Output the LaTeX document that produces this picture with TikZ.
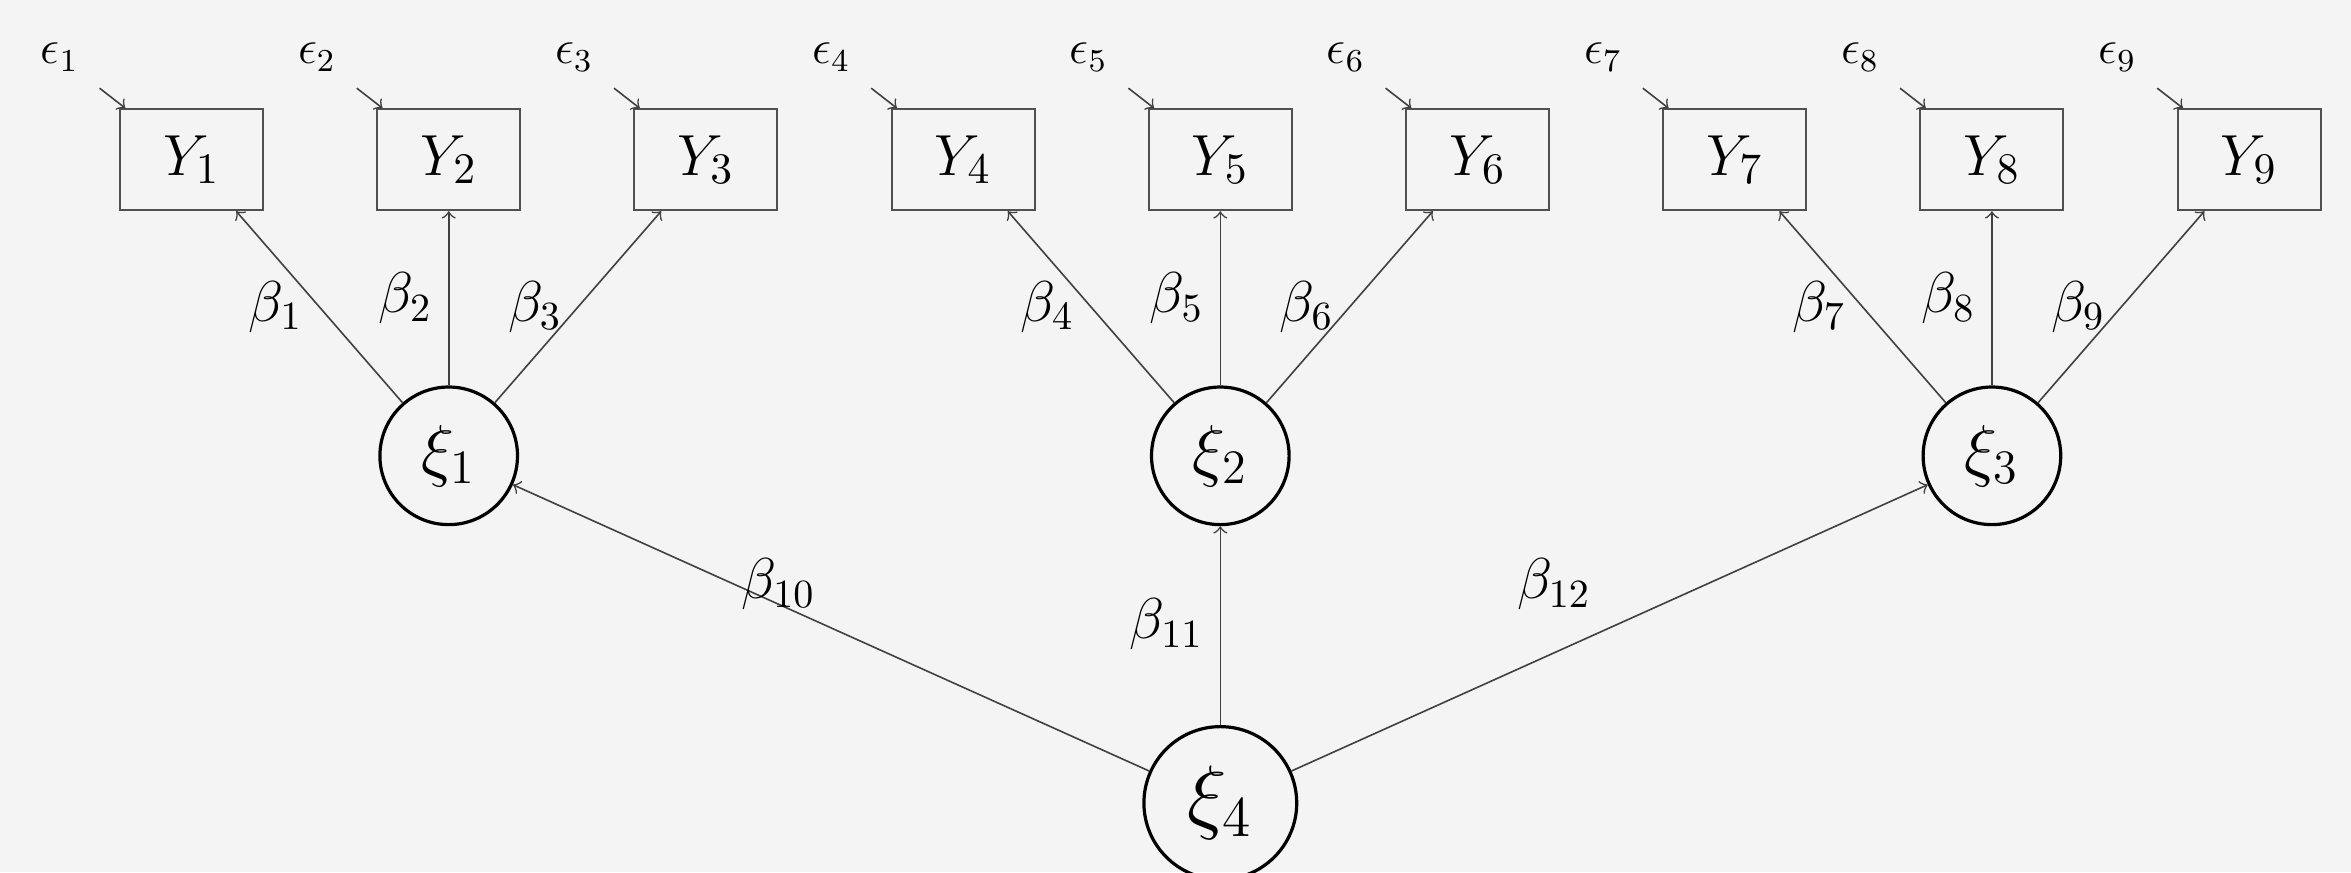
\RequirePackage{fix-cm}
\documentclass[tikz,border=0pt]{standalone}
\usetikzlibrary{calc}
\DeclareMathSizes{14.5}{14.5}{10.9}{8}
\definecolor{bg}{HTML}{F4F4F4}
\definecolor{ln}{HTML}{404040}
\definecolor{boxc}{HTML}{505050}
\begin{document}
\begin{tikzpicture}[x=0.25pt,y=-0.25pt,
  obs/.style={draw=boxc,line width=0.5pt,minimum width=35.75pt,minimum height=25.25pt,inner sep=0pt,font=\fontsize{14.5}{17}\selectfont},
  lat/.style={circle,draw=black,line width=0.8pt,minimum size=34.4pt,inner sep=0pt,font=\LARGE},
  err/.style={font=\large,inner sep=5pt},
  coef/.style={font=\Large,inner sep=0pt},
  arr/.style={->,draw=ln,line width=0.4pt}]
\fill[bg] (0,0) rectangle (2351,872);
\useasboundingbox (0,0) rectangle (2351,872);
\foreach \i in {1,...,9} {
  \pgfmathsetmacro\xx{191.5+(\i-1)*257.2}
  \node[obs] (Y\i) at (\xx,159.7) {$Y_{\i}$};
  \node[err] (e\i) at (\xx-131.7,57.2) {$\epsilon_{\i}$};
  \draw[arr] (e\i) -- (Y\i);
}
\node[lat] (x1) at (448.7,455.8) {$\xi_1$};
\node[lat] (x2) at (1220.3,455.8) {$\xi_2$};
\node[lat] (x3) at (1991.9,455.8) {$\xi_3$};
\node[lat,minimum size=38.2pt,font=\huge] (x4) at (1220.3,803) {$\xi_4$};
\foreach \k/\xc in {0/448.7,1/1220.3,2/1991.9} {
  \pgfmathtruncatemacro\a{3*\k+1}
  \pgfmathtruncatemacro\b{3*\k+2}
  \pgfmathtruncatemacro\c{3*\k+3}
  \pgfmathtruncatemacro\l{\k+1}
  \draw[arr] (x\l) -- (Y\a);
  \draw[arr] (x\l) -- (Y\b);
  \draw[arr] (x\l) -- (Y\c);
  \node[coef] (b\a) at (\xc-173,306.7) {$\beta_{\a}$};
  \node[coef] (b\b) at (\xc-43.5,298) {$\beta_{\b}$};
  \node[coef] (b\c) at (\xc+86.3,306.7) {$\beta_{\c}$};
}
\draw[arr] (x4) -- (x1);
\draw[arr] (x4) -- (x2);
\draw[arr] (x4) -- (x3);
\node[coef] (b10) at (778.5,584) {$\beta_{10}$};
\node[coef] (b11) at (1166.5,624.5) {$\beta_{11}$};
\node[coef] (b12) at (1554,584) {$\beta_{12}$};
\end{tikzpicture}
\end{document}
